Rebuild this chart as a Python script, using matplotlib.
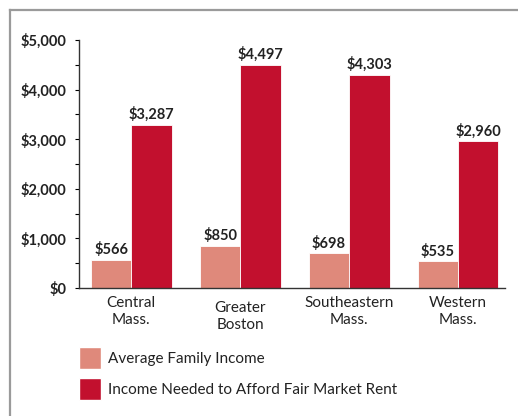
import matplotlib
matplotlib.use("Agg")
import matplotlib.pyplot as plt
import matplotlib.transforms as mtransforms
from matplotlib.lines import Line2D
from matplotlib.patches import Patch
import numpy as np

categories = ["Central\nMass.", "Greater\nBoston", "Southeastern\nMass.", "Western\nMass."]
avg_income = [566, 850, 698, 535]
needed_income = [3287, 4497, 4303, 2960]
series_names = ["Average Family Income", "Income Needed to Afford Fair Market Rent"]
yticks = [0, 1000, 2000, 3000, 4000, 5000]

PINK = "#DF897B"
RED = "#C2102E"
FONT = "Lato"

W, H = 518, 416
fig = plt.figure(figsize=(W / 100, H / 100), dpi=100)
ax = fig.add_axes([79 / W, 1 - 288 / H, (505 - 79) / W, (288 - 40) / H])

x = np.arange(len(categories))
bw = 0.37
b1 = ax.bar(x - bw / 2, avg_income, width=bw, color=PINK, edgecolor="white", linewidth=0.6)
b2 = ax.bar(x + bw / 2, needed_income, width=bw, color=RED, edgecolor="white", linewidth=0.6)

for bars, vals in ((b1, avg_income), (b2, needed_income)):
    for rect, v in zip(bars, vals):
        ax.annotate(f"${v:,}", (rect.get_x() + rect.get_width() / 2, v),
                    xytext=(0, 2), textcoords="offset points", ha="center", va="bottom",
                    fontsize=10.5, fontweight="bold", family=FONT, color="#222222")

ax.set_xlim(-0.48, 3.43)
ax.set_ylim(0, 5000)
ax.set_yticks(yticks)
ax.set_yticklabels([f"${v:,}" for v in yticks], fontsize=10.5, fontweight="bold",
                   family=FONT, color="#222222")
ax.set_yticks(np.arange(500, 5000, 1000), minor=True)
ax.tick_params(axis="y", which="both", length=3, width=0.8, direction="out", pad=6)
ax.set_xticks(x)
ax.set_xticklabels(categories, fontsize=11, family=FONT, color="#222222", linespacing=1.25)
ax.tick_params(axis="x", length=0, pad=6)
for sp in ("top", "right"):
    ax.spines[sp].set_visible(False)
for sp in ("left", "bottom"):
    ax.spines[sp].set_linewidth(1.0)
    ax.spines[sp].set_color("#333333")

# Greater Boston label sits a bit lower in the original
lbl = ax.get_xticklabels()[1]
lbl.set_transform(lbl.get_transform() + mtransforms.ScaledTranslation(0, -5 / 100, fig.dpi_scale_trans))

handles = [Patch(facecolor=PINK, edgecolor="white"), Patch(facecolor=RED, edgecolor="white")]
leg = fig.legend(handles, series_names, loc="upper left", bbox_to_anchor=(79 / W, 1 - 347 / H),
                 frameon=False, borderpad=0, borderaxespad=0, handlelength=1.45, handleheight=1.88,
                 handletextpad=0.45, labelspacing=0.55, prop={"family": FONT, "size": 11})
for t in leg.get_texts():
    t.set_color("#222222")

# gray frame
fig.add_artist(Line2D([10 / W, 10 / W], [0, 1 - 10 / H], transform=fig.transFigure,
                      color="#9a9a9a", linewidth=1.6))
fig.add_artist(Line2D([10 / W, 1], [1 - 10 / H, 1 - 10 / H], transform=fig.transFigure,
                      color="#9a9a9a", linewidth=1.6))

fig.savefig("out.png", dpi=100)
